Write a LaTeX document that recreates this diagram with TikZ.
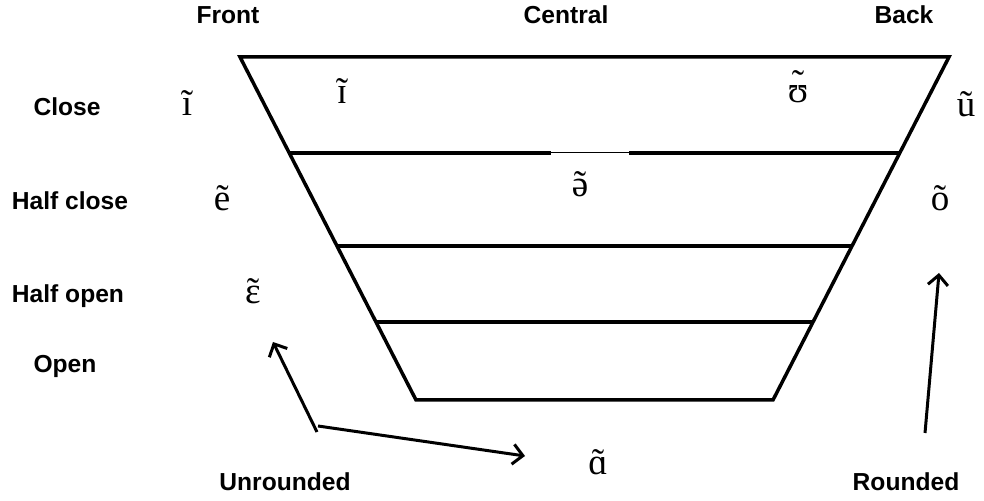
\documentclass[tikz,border=0pt]{standalone}
\usepackage{fontspec}
\setmainfont{Liberation Serif}
\newfontfamily\labelfont{Liberation Sans}
\newcommand\nasal[2][0em]{\hbox{\ooalign{#2\cr\hidewidth\raise#1\hbox{˜}\hidewidth\cr}}}
\usetikzlibrary{arrows.meta,calc}
\begin{document}
\begin{tikzpicture}[x=0.5pt, y=-0.5pt, >={Straight Barb[length=5pt,width=10pt]},
  axislabel/.style={font=\labelfont\bfseries\fontsize{12.3}{14}\selectfont, anchor=base, inner sep=0pt},
  vowel/.style={font=\fontsize{18.5}{20}\selectfont, anchor=base, inner sep=0pt},
  chart/.style={line width=1.75pt},
  pointer/.style={line width=1.5pt, ->}]
  \useasboundingbox (0,0) rectangle (984,501);
  \coordinate (tl) at (240,57);
  \coordinate (tr) at (949,57);
  \coordinate (br) at (773,400);
  \coordinate (bl) at (416,400);
  \draw[chart] (tl) -- (tr) -- (br) -- (bl) -- cycle;
  \coordinate (rowa) at ($(tl)!96/343!(bl)$);
  \coordinate (gapl) at (rowa -| 551,0);
  \coordinate (gapr) at (rowa -| 629,0);
  \draw[chart] (rowa) -- (gapl);
  \draw[line width=0.5pt] (gapl) -- (gapr);
  \draw[chart] (gapr) -- ($(tr)!96/343!(br)$);
  \draw[chart] ($(tl)!189/343!(bl)$) -- ($(tr)!189/343!(br)$);
  \draw[chart] ($(tl)!265/343!(bl)$) -- ($(tr)!265/343!(br)$);
  \node[axislabel] (front) at (228,24) {Front};
  \node[axislabel] (central) at (566,24) {Central};
  \node[axislabel] (back) at (904,24) {Back};
  \node[axislabel] (close) at (67,116) {Close};
  \node[axislabel] (halfclose) at (70,210) {Half close};
  \node[axislabel] (halfopen) at (68,303) {Half open};
  \node[axislabel] (open) at (65,373) {Open};
  \node[axislabel] (unrounded) at (285,490) {Unrounded};
  \node[axislabel] (rounded) at (906,490) {Rounded};
  \node[vowel] (vi) at (187,116) {ĩ};
  \node[vowel] (vsmalli) at (342,104) {\nasal{ɪ}};
  \node[vowel] (vupsilon) at (798,103) {\nasal[0.2em]{ʊ}};
  \node[vowel] (vu) at (966,117) {ũ};
  \node[vowel] (ve) at (222,211) {ẽ};
  \node[vowel] (vschwa) at (580,197) {\nasal{ə}};
  \node[vowel] (vo) at (940,211) {õ};
  \node[vowel] (vepsilon) at (253,304) {\nasal{ɛ}};
  \node[vowel] (valpha) at (598,474) {\nasal{ɑ}};
  \coordinate (utail) at (317,432);
  \coordinate (utailb) at (318,426);
  \coordinate (uhead) at (273,342);
  \coordinate (uheadb) at (525,456);
  \coordinate (rtail) at (925,433);
  \coordinate (rhead) at (939,273);
  \draw[pointer] (utail) -- (uhead);
  \draw[pointer] (utailb) -- (uheadb);
  \draw[pointer] (rtail) -- (rhead);
\end{tikzpicture}
\end{document}
